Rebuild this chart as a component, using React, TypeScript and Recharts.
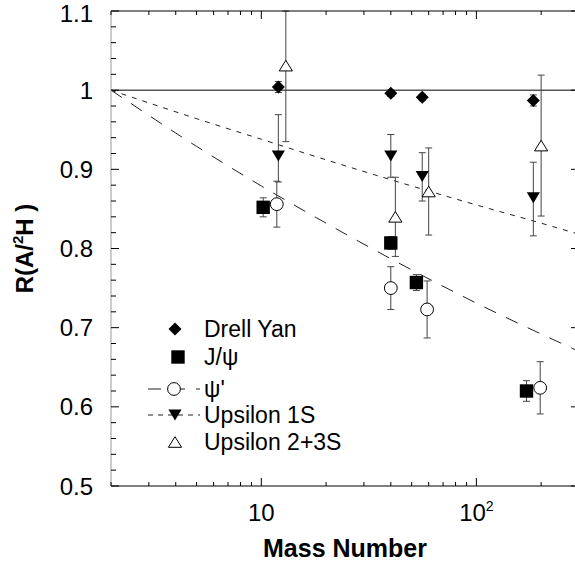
import React from 'react';
import { ComposedChart, Scatter, Line, XAxis, YAxis, ErrorBar } from 'recharts';

const FONT = '"Liberation Sans", Arial, Helvetica, sans-serif';

// axis ticks
const massTicks = [2, 3, 4, 5, 6, 7, 8, 9, 10, 20, 30, 40, 50, 60, 70, 80, 90, 100, 200, 300];
const massMajor = [10, 100];
const massLabelBase = ['10', '10'];
const massLabelExp = ['', '2'];

const ratioTicks = [
  0.5, 0.52, 0.54, 0.56, 0.58, 0.6, 0.62, 0.64, 0.66, 0.68, 0.7, 0.72, 0.74, 0.76, 0.78, 0.8,
  0.82, 0.84, 0.86, 0.88, 0.9, 0.92, 0.94, 0.96, 0.98, 1, 1.02, 1.04, 1.06, 1.08, 1.1,
];
const ratioMajor = [0.5, 0.6, 0.7, 0.8, 0.9, 1, 1.1];
const ratioLabels = ['0.5', '0.6', '0.7', '0.8', '0.9', '1', '1.1'];

// Drell Yan
const dyMass = [12, 40, 56, 184];
const dyRatio = [1.004, 0.996, 0.991, 0.987];
const dyErrLo = [0.007, 0.004, 0.004, 0.007];
const dyErrHi = [0.007, 0.004, 0.004, 0.007];

// J/psi
const jpsiMass = [10.2, 40, 52.6, 171];
const jpsiRatio = [0.852, 0.807, 0.757, 0.62];
const jpsiErrLo = [0.012, 0.008, 0.01, 0.013];
const jpsiErrHi = [0.012, 0.008, 0.01, 0.013];

// psi'
const psiPMass = [11.8, 40, 59, 198];
const psiPRatio = [0.856, 0.75, 0.723, 0.624];
const psiPErrLo = [0.029, 0.027, 0.036, 0.033];
const psiPErrHi = [0.029, 0.027, 0.036, 0.033];

// Upsilon 1S
const ups1Mass = [12, 40, 56, 184];
const ups1Ratio = [0.917, 0.917, 0.891, 0.864];
const ups1ErrLo = [0.033, 0.027, 0.031, 0.048];
const ups1ErrHi = [0.052, 0.027, 0.03, 0.045];

// Upsilon 2+3S (first bar runs out of the frame at 1.1)
const ups23Mass = [13, 42, 60, 200];
const ups23Ratio = [1.031, 0.84, 0.872, 0.93];
const ups23ErrLo = [0.096, 0.05, 0.055, 0.089];
const ups23ErrHi = [0.069, 0.05, 0.055, 0.089];

// fit curves
const fitMass = [2, 5, 10, 20, 50, 100, 200, 300];
const fitJpsiRatio = [1, 0.929, 0.879, 0.832, 0.773, 0.731, 0.692, 0.67];
const fitUpsRatio = [1, 0.964, 0.938, 0.912, 0.879, 0.855, 0.832, 0.818];
const unityMass = [2, 300];
const unityRatio = [1, 1];

const points = (a: number[], r: number[], lo: number[], hi: number[]) =>
  a.map((x, i) => ({ a: x, r: r[i], e: [lo[i], hi[i]] }));
const curve = (a: number[], r: number[]) => a.map((x, i) => ({ a: x, r: r[i] }));

const dyData = points(dyMass, dyRatio, dyErrLo, dyErrHi);
const jpsiData = points(jpsiMass, jpsiRatio, jpsiErrLo, jpsiErrHi);
const psiPData = points(psiPMass, psiPRatio, psiPErrLo, psiPErrHi);
const ups1Data = points(ups1Mass, ups1Ratio, ups1ErrLo, ups1ErrHi);
const ups23Data = points(ups23Mass, ups23Ratio, ups23ErrLo, ups23ErrHi);

const findMajor = (v: number, list: number[]) => list.findIndex((m) => Math.abs(m - v) < 1e-6);

// marker shapes
function diamond(cx: number, cy: number) {
  const s = 6.5;
  return <polygon points={`${cx},${cy - s} ${cx + s},${cy} ${cx},${cy + s} ${cx - s},${cy}`} fill="#000" />;
}
function square(cx: number, cy: number) {
  return <rect x={cx - 6.7} y={cy - 6.7} width={13.4} height={13.4} fill="#000" />;
}
function circle(cx: number, cy: number) {
  return <circle cx={cx} cy={cy} r={6.4} fill="#fff" stroke="#000" strokeWidth={1} />;
}
function triDown(cx: number, cy: number) {
  return <polygon points={`${cx - 6.6},${cy - 5.5} ${cx + 6.6},${cy - 5.5} ${cx},${cy + 5.5}`} fill="#000" />;
}
function triUp(cx: number, cy: number) {
  return (
    <polygon
      points={`${cx - 6.6},${cy + 5.3} ${cx + 6.6},${cy + 5.3} ${cx},${cy - 5.3}`}
      fill="#fff"
      stroke="#000"
      strokeWidth={1}
    />
  );
}

const BottomTick = (props: any) => {
  const { x, y, payload } = props;
  const idx = findMajor(payload.value, massMajor);
  const len = idx >= 0 ? 8 : 4;
  return (
    <g>
      <line x1={x} x2={x} y1={y} y2={y - len} stroke="#000" />
      {idx >= 0 && (
        <text x={x} y={y + 35} textAnchor="middle" fontSize={24} fontFamily={FONT} fill="#000">
          {massLabelBase[idx]}
          {massLabelExp[idx] && (
            <tspan dy={-10} fontSize={14}>
              {massLabelExp[idx]}
            </tspan>
          )}
        </text>
      )}
    </g>
  );
};

const TopTick = (props: any) => {
  const { x, y, payload } = props;
  const len = findMajor(payload.value, massMajor) >= 0 ? 8 : 4;
  return <line x1={x} x2={x} y1={y} y2={y + len} stroke="#000" />;
};

const LeftTick = (props: any) => {
  const { x, y, payload } = props;
  const idx = findMajor(payload.value, ratioMajor);
  const len = idx >= 0 ? 8 : 5;
  // keep the top label inside the page
  const ty = Math.max(y + 8.5, 22);
  return (
    <g>
      <line x1={x} x2={x + len} y1={y} y2={y} stroke="#000" />
      {idx >= 0 && (
        <text x={x - 18} y={ty} textAnchor="end" fontSize={24} fontFamily={FONT} fill="#000">
          {ratioLabels[idx]}
        </text>
      )}
    </g>
  );
};

const RightTick = (props: any) => {
  const { x, y } = props;
  return <line x1={x} x2={x - 8} y1={y} y2={y} stroke="#000" />;
};

const XTitle = (props: any) => {
  const vb = props.viewBox || { x: 111, y: 486, width: 468, height: 83 };
  return (
    <text
      x={vb.x + vb.width / 2}
      y={vb.y + 71}
      textAnchor="middle"
      fontSize={25}
      fontWeight="bold"
      fontFamily={FONT}
      fill="#000"
    >
      Mass Number
    </text>
  );
};

const YTitle = (props: any) => {
  const vb = props.viewBox || { x: 0, y: 11, width: 111, height: 475 };
  const cx = 33;
  const cy = vb.y + vb.height / 2;
  return (
    <text
      x={cx}
      y={cy}
      transform={`rotate(-90, ${cx}, ${cy})`}
      textAnchor="middle"
      fontSize={24}
      fontWeight="bold"
      fontFamily={FONT}
      fill="#000"
    >
      R(A/
      <tspan dy={-10} fontSize={15}>
        2
      </tspan>
      <tspan dy={10}>H )</tspan>
    </text>
  );
};

// legend rows
const legendNames = ['Drell Yan', 'J/\u03C8', "\u03C8'", 'Upsilon 1S', 'Upsilon 2+3S'];
const legendMarkers = [diamond, square, circle, triDown, triUp];
const legendDash = ['', '', '13 11', '5 5', ''];
const legendRowY = [329, 357, 389, 415, 442];
const legendMarkX = [175, 178, 174, 175, 175];

const errStroke = '#444';

export default function App() {
  return (
    <div
      style={{
        position: 'fixed',
        left: 0,
        top: 0,
        width: 575,
        height: 569,
        overflow: 'hidden',
        background: '#fff',
      }}
    >
      <ComposedChart width={600} height={569} margin={{ top: 0, right: 0, bottom: 0, left: 0 }}>
        <XAxis
          xAxisId="b"
          dataKey="a"
          type="number"
          scale="log"
          domain={[2, 300]}
          allowDataOverflow
          ticks={massTicks}
          interval={0}
          tickSize={0}
          tickMargin={0}
          tickLine={false}
          tick={<BottomTick />}
          axisLine={{ stroke: '#000' }}
          height={83}
          label={XTitle}
        />
        <XAxis
          xAxisId="t"
          orientation="top"
          dataKey="a"
          type="number"
          scale="log"
          domain={[2, 300]}
          allowDataOverflow
          ticks={massTicks}
          interval={0}
          tickSize={0}
          tickMargin={0}
          tickLine={false}
          tick={<TopTick />}
          axisLine={{ stroke: '#000' }}
          height={11}
        />
        <YAxis
          yAxisId="l"
          dataKey="r"
          type="number"
          domain={[0.5, 1.1]}
          allowDataOverflow
          ticks={ratioTicks}
          interval={0}
          tickSize={0}
          tickMargin={0}
          tickLine={false}
          tick={<LeftTick />}
          axisLine={{ stroke: '#999' }}
          width={111}
          label={YTitle}
        />
        <YAxis
          yAxisId="r"
          orientation="right"
          dataKey="r"
          type="number"
          domain={[0.5, 1.1]}
          allowDataOverflow
          ticks={ratioMajor}
          interval={0}
          tickSize={0}
          tickMargin={0}
          tickLine={false}
          tick={<RightTick />}
          axisLine={{ stroke: '#000' }}
          width={21}
        />

        <Line
          xAxisId="b"
          yAxisId="l"
          data={curve(unityMass, unityRatio)}
          dataKey="r"
          type="linear"
          stroke="#000"
          strokeWidth={1}
          dot={false}
          isAnimationActive={false}
        />
        <Line
          xAxisId="b"
          yAxisId="l"
          data={curve(fitMass, fitJpsiRatio)}
          dataKey="r"
          type="monotone"
          stroke="#222"
          strokeWidth={1}
          strokeDasharray="13 11"
          dot={false}
          isAnimationActive={false}
        />
        <Line
          xAxisId="b"
          yAxisId="l"
          data={curve(fitMass, fitUpsRatio)}
          dataKey="r"
          type="monotone"
          stroke="#222"
          strokeWidth={1}
          strokeDasharray="5 6"
          dot={false}
          isAnimationActive={false}
        />

        <Scatter
          xAxisId="b"
          yAxisId="l"
          name="Upsilon 2+3S"
          data={ups23Data}
          dataKey="r"
          shape={(p: any) => triUp(p.cx, p.cy)}
          isAnimationActive={false}
        >
          <ErrorBar dataKey="e" direction="y" width={3.5} stroke={errStroke} strokeWidth={1} isAnimationActive={false} />
        </Scatter>
        <Scatter
          xAxisId="b"
          yAxisId="l"
          name="Upsilon 1S"
          data={ups1Data}
          dataKey="r"
          shape={(p: any) => triDown(p.cx, p.cy)}
          isAnimationActive={false}
        >
          <ErrorBar dataKey="e" direction="y" width={3.5} stroke={errStroke} strokeWidth={1} isAnimationActive={false} />
        </Scatter>
        <Scatter
          xAxisId="b"
          yAxisId="l"
          name="psi'"
          data={psiPData}
          dataKey="r"
          shape={(p: any) => circle(p.cx, p.cy)}
          isAnimationActive={false}
        >
          <ErrorBar dataKey="e" direction="y" width={3.5} stroke={errStroke} strokeWidth={1} isAnimationActive={false} />
        </Scatter>
        <Scatter
          xAxisId="b"
          yAxisId="l"
          name="J/psi"
          data={jpsiData}
          dataKey="r"
          shape={(p: any) => square(p.cx, p.cy)}
          isAnimationActive={false}
        >
          <ErrorBar dataKey="e" direction="y" width={3.5} stroke={errStroke} strokeWidth={1} isAnimationActive={false} />
        </Scatter>
        <Scatter
          xAxisId="b"
          yAxisId="l"
          name="Drell Yan"
          data={dyData}
          dataKey="r"
          shape={(p: any) => diamond(p.cx, p.cy)}
          isAnimationActive={false}
        >
          <ErrorBar dataKey="e" direction="y" width={3.5} stroke={errStroke} strokeWidth={1} isAnimationActive={false} />
        </Scatter>
      </ComposedChart>

      <svg
        width={575}
        height={569}
        style={{ position: 'absolute', left: 0, top: 0, pointerEvents: 'none' }}
      >
        {legendNames.map((name, i) => (
          <g key={name}>
            {legendDash[i] && (
              <line
                x1={148}
                x2={200}
                y1={legendRowY[i]}
                y2={legendRowY[i]}
                stroke="#222"
                strokeWidth={1}
                strokeDasharray={legendDash[i]}
              />
            )}
            {legendMarkers[i](legendMarkX[i], legendRowY[i])}
            <text x={204} y={legendRowY[i] + 8} fontSize={23} fontFamily={FONT} fill="#000">
              {name}
            </text>
          </g>
        ))}
      </svg>
    </div>
  );
}
